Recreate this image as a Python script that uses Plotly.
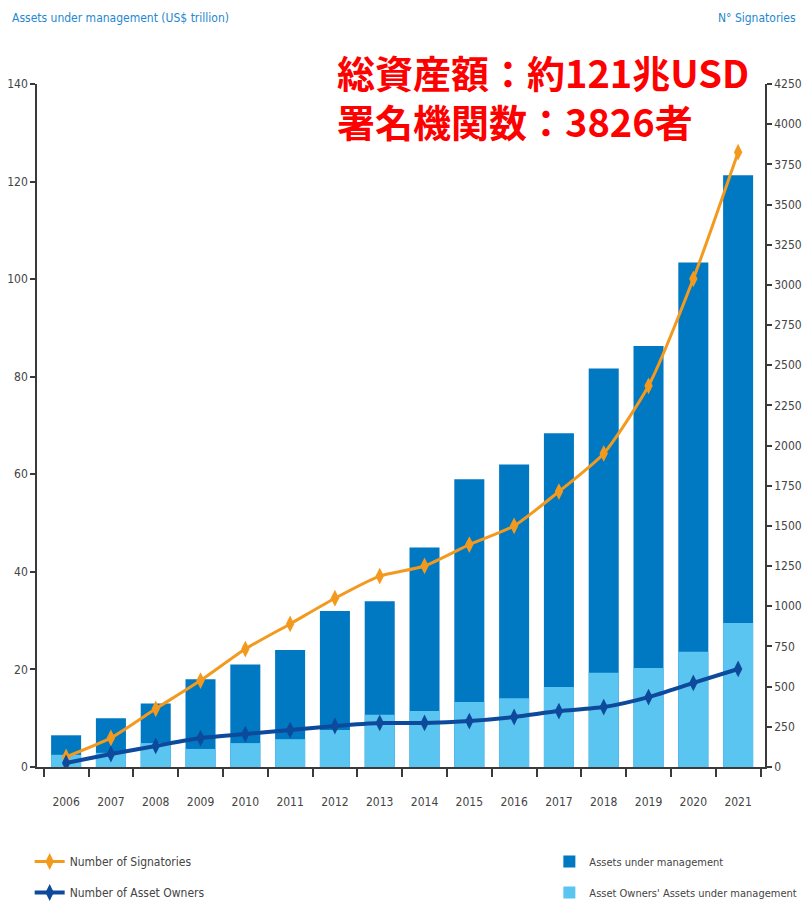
import plotly.graph_objects as go

# PRI growth 2006-2021
years = ["2006", "2007", "2008", "2009", "2010", "2011", "2012", "2013",
         "2014", "2015", "2016", "2017", "2018", "2019", "2020", "2021"]
aum_total = [6.5, 10, 13, 18, 21, 24, 32, 34, 45, 59, 62, 68.4, 81.7, 86.3, 103.4, 121.3]
aum_owners = [2.5, 2.9, 4.9, 3.7, 4.9, 5.7, 7.6, 10.7, 11.5, 13.3, 14.1, 16.4, 19.3, 20.3, 23.6, 29.5]
signatories = [63, 181, 362, 538, 734, 890, 1050, 1188, 1251, 1384, 1501, 1714, 1951, 2372, 3038, 3826]
asset_owners = [25, 81, 131, 180, 205, 230, 255, 274, 274, 286, 311, 348, 373, 435, 523, 610]

left_ticks = list(range(0, 141, 20))
right_ticks = list(range(0, 4251, 250))

COND = "DejaVu Sans Condensed, Liberation Sans Narrow, Arial Narrow, sans-serif"
CJK = "Noto Sans CJK JP, Noto Sans CJK SC, sans-serif"
AXIS = "#3a3a3a"
TXT = "#444444"

fig = go.Figure()

fig.add_trace(go.Bar(
    x=years, y=aum_total, name="Assets under management",
    marker=dict(color="#0079C2", line=dict(width=0)),
    width=0.67, legend="legend2", legendgroup="a",
))
fig.add_trace(go.Bar(
    x=years, y=aum_owners, name="Asset Owners' Assets under management",
    marker=dict(color="#5BC5F2", line=dict(width=0)),
    width=0.67, legend="legend2", legendgroup="b",
))
fig.add_trace(go.Scatter(
    x=years, y=signatories, yaxis="y2", name="Number of Signatories",
    mode="lines+markers", line=dict(color="#F39A1E", width=3, shape="spline", smoothing=0.6),
    marker=dict(symbol="diamond-tall", size=12, color="#F39A1E"),
    legendgroup="c",
))
fig.add_trace(go.Scatter(
    x=years, y=asset_owners, yaxis="y2", name="Number of Asset Owners",
    mode="lines+markers", line=dict(color="#0D4A9C", width=4, shape="spline", smoothing=0.6),
    marker=dict(symbol="diamond-tall", size=12, color="#0D4A9C"),
    legendgroup="d",
))

fig.update_layout(
    width=802, height=903,
    margin=dict(l=37, r=37, t=84, b=136, autoexpand=False),
    plot_bgcolor="white", paper_bgcolor="white",
    barmode="overlay",
    font=dict(family=COND, size=12, color=TXT),
    xaxis=dict(
        type="category", range=[-0.65, 15.6],
        showline=True, linecolor=AXIS, linewidth=1.5,
        ticks="outside", tickson="boundaries", ticklen=8, tickwidth=1.5, tickcolor=AXIS,
        tickangle=0, ticklabelstandoff=23, showgrid=False, zeroline=False,
        tickfont=dict(family=COND, size=12, color=TXT),
    ),
    yaxis=dict(
        range=[0, 140], tickvals=left_ticks,
        showline=True, linecolor=AXIS, linewidth=1.5,
        ticks="outside", ticklen=5, tickwidth=2, tickcolor=AXIS,
        showgrid=False, zeroline=False,
        tickfont=dict(family=COND, size=12, color=TXT),
    ),
    yaxis2=dict(
        range=[0, 4250], tickvals=right_ticks, overlaying="y", side="right",
        showline=True, linecolor=AXIS, linewidth=1.5,
        ticks="outside", ticklen=5, tickwidth=2, tickcolor=AXIS,
        showgrid=False, zeroline=False,
        tickfont=dict(family=COND, size=12, color=TXT),
    ),
    legend=dict(
        xref="container", yref="container",
        x=0.037, y=0.062, xanchor="left", yanchor="top",
        orientation="v", traceorder="grouped", tracegroupgap=12,
        font=dict(family=COND, size=12, color=TXT), itemwidth=30,
        bgcolor="rgba(0,0,0,0)",
    ),
    legend2=dict(
        xref="container", yref="container",
        x=0.685, y=0.062, xanchor="left", yanchor="top",
        orientation="v", traceorder="grouped", tracegroupgap=12,
        font=dict(family=COND, size=11, color=TXT), itemwidth=30,
        bgcolor="rgba(0,0,0,0)",
    ),
    showlegend=True,
)

fig.add_annotation(
    text="Assets under management (US$ trillion)", xref="paper", yref="paper",
    x=-0.037, y=1.097, xanchor="left", yanchor="middle", showarrow=False,
    font=dict(family=COND, size=12, color="#1E88D0"),
)
fig.add_annotation(
    text="N° Signatories", xref="paper", yref="paper",
    x=1.045, y=1.097, xanchor="right", yanchor="middle", showarrow=False,
    font=dict(family=COND, size=12, color="#1E88D0"),
)
fig.add_annotation(
    text="<b>総資産額：約121兆USD</b><br><b>署名機関数：3826者</b>",
    xref="paper", yref="paper", align="left",
    x=0.41, y=0.983, xanchor="left", yanchor="middle", showarrow=False,
    font=dict(family=CJK, size=38, color="#FF0000"),
)

fig.write_html("out.html")
